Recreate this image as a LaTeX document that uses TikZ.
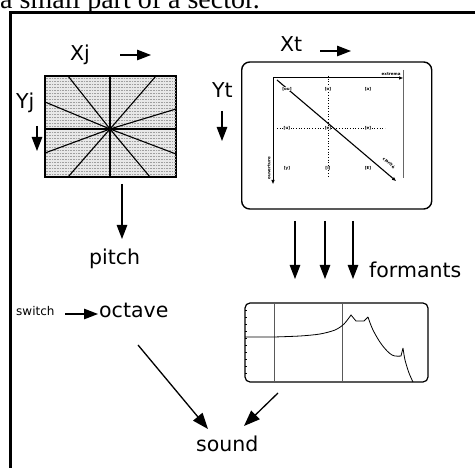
\documentclass[tikz,border=0pt]{standalone}
\usepackage{fontspec}
\setmainfont{DejaVu Sans}
\newfontfamily\serifx{Liberation Serif}
\usetikzlibrary{arrows.meta}
\begin{document}
\begin{tikzpicture}[x=1pt,y=-1pt,
  lbl/.style={font=\fontsize{20.5}{20.5}\selectfont, inner sep=0, anchor=base west},
  arr/.style={line width=1.3pt, -{Triangle[length=14pt,width=10.5pt]}},
  tinyl/.style={font=\fontsize{4}{4}\selectfont\bfseries, inner sep=0.3pt},
  box/.style={draw, line width=1.4pt, rounded corners=8pt, inner sep=0},
]
\useasboundingbox (0,0) rectangle (475,468);
% cut-off caption line
\node[anchor=base west, inner sep=0, font=\serifx\fontsize{28}{28}\selectfont] (caption) at (0,8.5) {a small part of a sector.};
% frame
\draw[line width=3pt] (10.5,468) -- (10.5,13) -- (475,13);

% ---------- left grid ----------
\node[draw, line width=1.2pt, fill=gray!18, minimum width=131pt, minimum height=101pt, inner sep=0] (grid) at (110.5,126.5) {};
\foreach \yy in {78.5,81.5,...,176} \draw[gray!75, line width=0.6pt, dash pattern=on 0.8pt off 0.8pt] (45.6,\yy) -- (175.4,\yy);
\draw[line width=1.2pt] (grid.north west) rectangle (grid.south east);
\coordinate (gc) at (110,129);
\draw[line width=1.1pt] (110,76) -- (110,177) (45,129) -- (176,129);
\foreach \p in {(68,76),(156,76),(45,102),(45,153),(176,109),(176,154),(68,177),(150,177)}
  \draw[line width=1.1pt] (gc) -- \p;
\fill (gc) circle (2.2pt);

\node[lbl] (xj) at (70,61) {Xj};
\coordinate (xja) at (120,55); \coordinate (xjb) at (151,55);
\draw[arr] (xja) -- (xjb);
\node[lbl] (yj) at (16,109) {Yj};
\coordinate (yja) at (37,126); \coordinate (yjb) at (37,151);
\draw[arr] (yja) -- (yjb);

\node[lbl] (pitch) at (89,265) {pitch};
\coordinate (pa) at (122,184); \coordinate (pb) at (122,239);
\draw[arr] (pa) -- (pb);

% ---------- right chart ----------
\node[box, minimum width=190pt, minimum height=147pt] (chart) at (336.7,135.5) {};
\node[lbl] (xt) at (280,52) {Xt};
\coordinate (xta) at (320,51); \coordinate (xtb) at (351,51);
\draw[arr] (xta) -- (xtb);
\node[lbl] (yt) at (212,98) {Yt};
\coordinate (yta) at (222,111); \coordinate (ytb) at (222,141);
\draw[arr] (yta) -- (ytb);

\draw[line width=1pt, -{Triangle[length=4pt,width=3pt]}] (273,78) -- (403,78);
\draw[gray!80!black, line width=0.9pt] (403,70) -- (403,178);
\draw[line width=1pt, -{Triangle[length=4pt,width=3pt]}] (273,78) -- (273,184);
\draw[line width=1.1pt, -{Triangle[length=4pt,width=3pt]}] (277,80) -- (396,181);
\draw[line width=0.7pt, dotted] (328,76) -- (328,178);
\draw[line width=0.7pt, dotted] (277,128) -- (385,128);
\node[tinyl, fill=white, anchor=south east] (ext) at (401,76) {extrema};
\node[tinyl, rotate=90, anchor=south west] (ouv) at (271,180) {ouverture};
\node[tinyl, rotate=-40] (clef) at (389,163) {clarit\'e};
\node[tinyl, fill=white] (v1) at (287,89) {[ou]};
\node[tinyl, fill=white] (v2) at (328,89) {[o]};
\node[tinyl, fill=white] (v3) at (368,89) {[a]};
\node[tinyl, fill=white] (v4) at (287,128) {[u]};
\node[tinyl, fill=white] (v5) at (328,128) {[e]};
\node[tinyl, fill=white] (v6) at (368,128) {[e]};
\node[tinyl, fill=white] (v7) at (287,168) {[y]};
\node[tinyl, fill=white] (v8) at (328,168) {[i]};
\node[tinyl, fill=white] (v9) at (368,168) {[E]};

% formant arrows
\foreach \xx/\n in {295/1,325/2,353/3} {
  \coordinate (fa\n) at (\xx,221); \coordinate (fb\n) at (\xx,279);
  \draw[arr] (fa\n) -- (fb\n);
}
\node[lbl] (formants) at (369,278) {formants};

% ---------- spectrum ----------
\node[box, line width=1.2pt, rounded corners=5pt, minimum width=183pt, minimum height=79pt] (spec) at (336.5,342.5) {};
\draw[gray!70!black, line width=1pt] (274,303) -- (274,382) (342,303) -- (342,382);
\foreach \yy in {310,317,...,378} \draw[line width=0.5pt] (245,\yy) -- (247,\yy);
\draw[line width=0.8pt] (245,337) -- (274,337)
  plot[smooth, tension=0.5] coordinates {(274,337) (300,336) (320,334) (335,330) (344,324) (351,315)}
  -- (356,321) -- (364,321) -- (368,317)
  plot[smooth, tension=0.6] coordinates {(368,317) (373,330) (382,345) (392,355) (401,356)}
  -- (403,348)
  plot[smooth, tension=0.5] coordinates {(403,348) (405,360) (409,373) (413,382)};

% ---------- bottom left ----------
\node[inner sep=0, anchor=base west, font=\fontsize{12}{12}\selectfont] (switch) at (16,316) {switch};
\coordinate (swa) at (65,314); \coordinate (swb) at (98,314);
\draw[arr] (swa) -- (swb);
\node[lbl] (octave) at (99,318) {octave};
\node[lbl] (sound) at (196,452) {sound};
\coordinate (oa) at (138,345); \coordinate (ob) at (208,429);
\draw[arr, -{Triangle[length=16pt,width=12pt]}] (oa) -- (ob);
\coordinate (sa) at (278,393); \coordinate (sb) at (244,426);
\draw[arr, -{Triangle[length=16pt,width=12pt]}] (sa) -- (sb);
\end{tikzpicture}
\end{document}
